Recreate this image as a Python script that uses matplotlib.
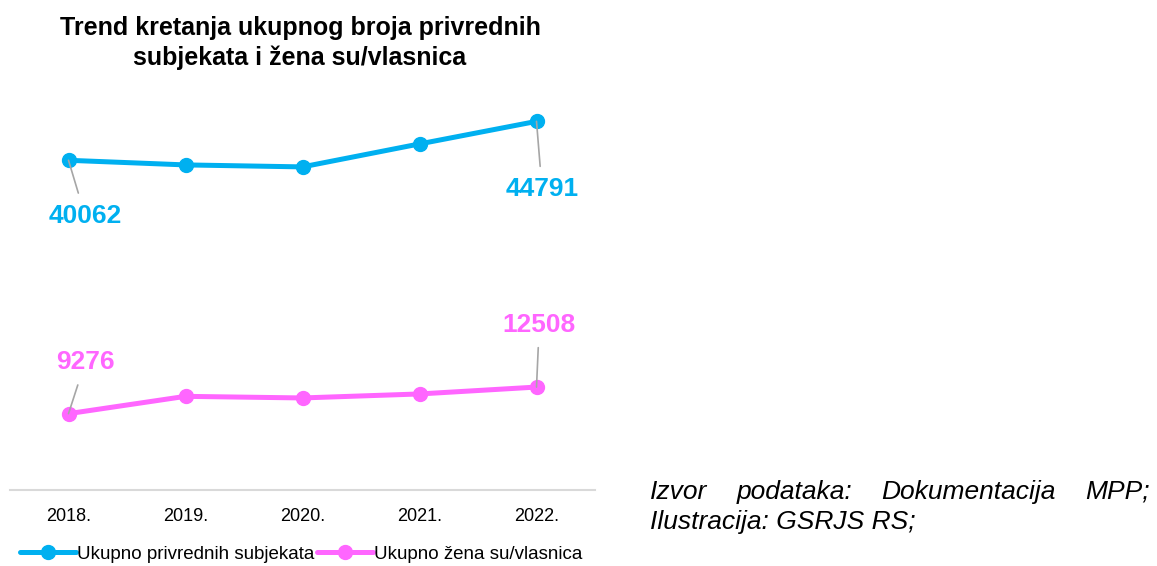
import matplotlib
matplotlib.use("Agg")
import matplotlib.pyplot as plt

plt.rcParams["font.family"] = ["Liberation Sans", "DejaVu Sans"]

# ── Data ──────────────────────────────────────────────
years = ["2018.", "2019.", "2020.", "2021.", "2022."]
ukupno_subjekata = [40062, 39500, 39260, 42050, 44791]
ukupno_zena = [9276, 11380, 11185, 11670, 12508]
series_names = ["Ukupno privrednih subjekata", "Ukupno žena su/vlasnica"]
title = "Trend kretanja ukupnog broja privrednih\nsubjekata i žena su/vlasnica"
source_line1 = ["Izvor", "podataka:", "Dokumentacija", "MPP;"]
source_line2 = "Ilustracija: GSRJS RS;"

BLUE = "#00B0F0"
PINK = "#FF66FF"
GREY = "#A6A6A6"

W, H = 1157, 566
fig = plt.figure(figsize=(W / 100, H / 100), dpi=100)

# axes area in pixels: x 10..595, y value 0 at 490
ax = fig.add_axes([10 / W, (H - 490) / H, 585 / W, 411.5 / H])
x = list(range(len(years)))
ax.plot(x, ukupno_subjekata, color=BLUE, lw=3.6, marker="o", ms=10,
        label=series_names[0], solid_capstyle="round")
ax.plot(x, ukupno_zena, color=PINK, lw=3.6, marker="o", ms=10,
        label=series_names[1], solid_capstyle="round")
ax.set_xlim(-0.5, len(years) - 0.5)
ax.set_ylim(0, 50000)
ax.set_xticks(x)
ax.set_xticklabels(years, fontsize=13)
ax.tick_params(axis="x", length=0, pad=13)
ax.set_yticks([])
for s in ["top", "right", "left"]:
    ax.spines[s].set_visible(False)
ax.spines["bottom"].set_color("#D9D9D9")
ax.spines["bottom"].set_linewidth(1.5)

# data labels with leader lines (offsets in points)
def label(xi, yi, text, color, dx, dy):
    ax.annotate(text, xy=(xi, yi), xytext=(dx, dy), textcoords="offset points",
                ha="center", va="center", fontsize=19, fontweight="bold", color=color,
                zorder=5,
                arrowprops=dict(arrowstyle="-", color=GREY, lw=1.2,
                                shrinkA=6, shrinkB=0))

label(0, ukupno_subjekata[0], f"{ukupno_subjekata[0]}", BLUE, 12, -40)
label(4, ukupno_subjekata[-1], f"{ukupno_subjekata[-1]}", BLUE, 4, -49)
label(0, ukupno_zena[0], f"{ukupno_zena[0]}", PINK, 12, 37)
label(4, ukupno_zena[-1], f"{ukupno_zena[-1]}", PINK, 2, 45)

fig.text(300 / W, 1 - 43 / H, title, ha="center", va="center",
         fontsize=18, fontweight="bold", linespacing=1.25)

leg = fig.legend(loc="center", bbox_to_anchor=(301 / W, 1 - 554 / H), ncol=2,
                 frameon=False, fontsize=13.5, handlelength=3.0, handletextpad=0.05,
                 columnspacing=0.15, borderaxespad=0)

# justified source text on the right
fig.canvas.draw()
r = fig.canvas.get_renderer()
left, right = 650, 1150
y1 = H - 492
words = []
for w in source_line1:
    t = fig.text(0, y1 / H, w, fontsize=19, style="italic", va="center")
    words.append(t)
widths = [t.get_window_extent(r).width for t in words]
gap = (right - left - sum(widths)) / (len(words) - 1)
pos = left
for t, wd in zip(words, widths):
    t.set_x(pos / W)
    pos += wd + gap
fig.text(left / W, (H - 522) / H, source_line2, fontsize=19, style="italic", va="center")

fig.savefig("out.png", dpi=100)
